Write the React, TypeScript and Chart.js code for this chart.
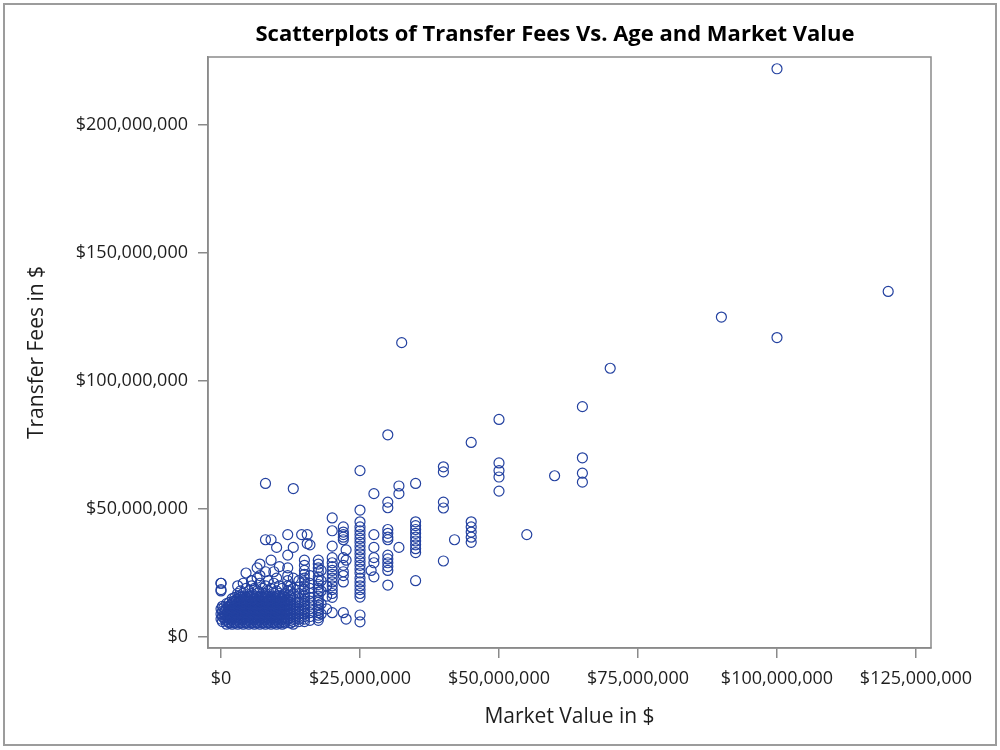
import React, { useEffect, useRef } from "react";
import { Chart, registerables } from "chart.js";

Chart.register(...registerables);

const TITLE = "Scatterplots of Transfer Fees Vs. Age and Market Value";
const X_TITLE = "Market Value in $";
const Y_TITLE = "Transfer Fees in $";

const X_TICKS = [0, 25000000, 50000000, 75000000, 100000000, 125000000];
const Y_TICKS = [0, 50000000, 100000000, 150000000, 200000000];

// Dense cluster: transfer fee rows (millions) and the market values (millions) in each row
const denseFeeRows = [5, 5.5, 6, 6.5, 7, 7.5, 8, 8.5, 9, 9.5, 10, 10.5, 11, 11.5, 12, 12.5, 13, 13.5, 14, 14.5, 15, 15.5, 16, 17, 18, 19, 20, 21, 22, 23];
const denseMarketRows = [
  [1, 2, 3, 4, 5, 6, 7, 8, 9, 10, 11],
  [1.5, 2.5, 3.5, 4.5, 5.5, 6.5, 7.5, 8.5, 9.5, 10.5, 11.5],
  [0.25, 1.25, 2.25, 3.25, 4.25, 5.25, 6.25, 7.25, 8.25, 9.25, 10.25, 11.25],
  [0.75, 1.75, 2.75, 3.75, 4.75, 5.75, 6.75, 7.75, 8.75, 9.75, 10.75, 11.75],
  [0, 1, 2, 3, 4, 5, 6, 7, 8, 9, 10, 11, 12],
  [0.5, 1.5, 2.5, 3.5, 4.5, 5.5, 6.5, 7.5, 8.5, 9.5, 10.5, 11.5],
  [0.25, 1.25, 2.25, 3.25, 4.25, 5.25, 6.25, 7.25, 8.25, 9.25, 10.25, 11.25],
  [0.75, 1.75, 2.75, 3.75, 4.75, 5.75, 6.75, 7.75, 8.75, 9.75, 10.75, 11.75],
  [0, 1, 2, 3, 4, 5, 6, 7, 8, 9, 10, 11, 12],
  [0.5, 1.5, 2.5, 3.5, 4.5, 5.5, 6.5, 7.5, 8.5, 9.5, 10.5, 11.5],
  [0.25, 1.25, 2.25, 3.25, 4.25, 5.25, 6.25, 7.25, 8.25, 9.25, 10.25, 11.25],
  [0.75, 1.75, 2.75, 3.75, 4.75, 5.75, 6.75, 7.75, 8.75, 9.75, 10.75, 11.75],
  [0, 1, 2, 3, 4, 5, 6, 7, 8, 9, 10, 11, 12],
  [0.5, 1.5, 2.5, 3.5, 4.5, 5.5, 6.5, 7.5, 8.5, 9.5, 10.5, 11.5],
  [0.25, 1.25, 2.25, 3.25, 4.25, 5.25, 6.25, 7.25, 8.25, 9.25, 10.25, 11.25],
  [1.75, 2.75, 3.75, 4.75, 5.75, 6.75, 7.75, 8.75, 9.75, 10.75, 11.75],
  [1, 2, 3, 4, 5, 6, 7, 8, 9, 10, 11, 12],
  [1.5, 2.5, 3.5, 4.5, 5.5, 6.5, 7.5, 8.5, 9.5, 10.5, 11.5],
  [2.25, 3.25, 4.25, 5.25, 6.25, 7.25, 8.25, 9.25, 10.25, 11.25],
  [2.75, 3.75, 4.75, 5.75, 6.75, 7.75, 8.75, 9.75, 10.75, 11.75],
  [2, 3, 4, 5, 6, 7, 8, 9, 10, 11, 12],
  [2.5, 3.5, 4.5, 5.5, 6.5, 7.5, 8.5, 9.5, 10.5, 11.5],
  [3.25, 4.25, 5.25, 6.25, 7.25, 8.25, 9.25, 10.25, 11.25],
  [3, 4, 5.5, 6.5, 7.5, 8, 9.5, 10.5, 11.5],
  [0, 3.5, 5, 6.5, 8.5, 10, 12],
  [4.5, 6, 7.5, 9, 11],
  [3, 5.5, 8, 10.5, 12],
  [0, 4, 7, 9.5],
  [5.5, 8.5, 12],
  [6.5, 10],
];

// Columns of players with the same market value (millions) and their fees (millions)
const columnMarket = [12.5, 13, 14, 14.5, 15, 15.5, 16, 17.5, 18, 19, 20, 22, 22.5, 25, 27, 27.5, 30, 32, 32.5, 35, 40, 42, 45, 50, 55, 60, 65, 70, 90, 100, 120];
const columnFees = [
  [5.5, 6.5, 7.5, 8.5, 9.5, 10.5, 11.5, 12.5, 13.5, 14.5, 16, 18, 20],
  [5, 6, 7, 8, 9, 10, 11, 12, 13, 15, 17, 19, 23, 35, 58],
  [6, 7, 8, 9, 10, 11, 12, 13.5, 15, 17, 19.5, 22],
  [40],
  [6, 7, 8, 9, 10, 11, 12, 13, 14, 15, 16, 17, 18.5, 20, 21.5, 23, 24.5, 26, 28, 30],
  [36.5, 40],
  [6.5, 8, 9.5, 11, 12.5, 14, 15.5, 17, 19, 21, 24, 36],
  [6.5, 7.5, 8.5, 9.5, 10.5, 11.5, 12.5, 13.5, 14.5, 16, 17.5, 19, 20.5, 22, 23.5, 25.5, 27, 28.5, 30],
  [9, 13, 18, 22, 26],
  [11, 16, 20],
  [9.5, 15.5, 17, 18.5, 20, 21.5, 23, 24.5, 26, 27.5, 29, 31, 35.5, 41.5, 46.5],
  [9.5, 21.5, 24, 25.5, 28, 31, 38, 39, 40, 41, 43],
  [7, 30, 34],
  [5.9, 8.6, 15.6, 17, 18.5, 20, 21.5, 23, 25, 26.5, 28, 29.5, 31, 32.5, 34, 35.5, 37, 38.5, 40, 41.5, 43, 45, 49.6, 65],
  [26],
  [23.5, 29, 31, 35, 40, 56],
  [20.3, 26, 27.5, 29, 30.5, 32, 38, 39, 40.5, 42, 50.5, 52.7, 79],
  [35, 56, 59],
  [115],
  [22, 33, 34.5, 36, 37.5, 39, 40.5, 42, 43.5, 45, 60],
  [29.7, 50.4, 52.7, 64.5, 66.5],
  [38],
  [37, 39, 41, 43, 45, 76],
  [57, 62.5, 65, 68, 85],
  [40],
  [63],
  [60.5, 64, 70, 90],
  [105],
  [125],
  [117, 222],
  [135],
];

// Scattered individual players: market value and transfer fee, in millions
const scatteredMarket = [0, 0, 4.5, 5.5, 6.5, 7, 7, 8, 9, 9.5, 10.5, 12, 12, 8, 9, 10, 12, 12, 8];
const scatteredFees = [18.5, 21, 25, 22, 27, 24, 28.5, 25.5, 30, 25.5, 27.5, 24, 27, 38, 38, 35, 40, 32, 60];

const MARKER_COLOR = "#2341a0";
const AXIS_COLOR = "#8a8a8a";
const TEXT_COLOR = "#1e1e1e";
const FONT = "'Open Sans', 'Noto Sans', sans-serif";

function money(v: number): string {
  return "$" + String(Math.round(v)).replace(/\B(?=(\d{3})+(?!\d))/g, ",");
}

function buildPoints() {
  const pts: { x: number; y: number }[] = [];
  denseFeeRows.forEach((fee, i) => {
    denseMarketRows[i].forEach((mv) => pts.push({ x: mv * 1e6, y: fee * 1e6 }));
  });
  columnMarket.forEach((mv, i) => {
    columnFees[i].forEach((fee) => pts.push({ x: mv * 1e6, y: fee * 1e6 }));
  });
  scatteredMarket.forEach((mv, i) => pts.push({ x: mv * 1e6, y: scatteredFees[i] * 1e6 }));
  return pts;
}

const framePlugin = {
  id: "frameAndTitle",
  afterDraw(chart: any) {
    const { ctx, chartArea } = chart;
    ctx.save();
    ctx.strokeStyle = AXIS_COLOR;
    ctx.lineWidth = 1.5;
    ctx.strokeRect(chartArea.left, chartArea.top, chartArea.right - chartArea.left, chartArea.bottom - chartArea.top);
    ctx.strokeStyle = "#9c9c9c";
    ctx.lineWidth = 2;
    ctx.strokeRect(4, 4, 992, 741);
    ctx.fillStyle = "#000000";
    ctx.font = "bold 22px " + FONT;
    ctx.textAlign = "center";
    ctx.textBaseline = "middle";
    ctx.fillText(TITLE, 555, 35);
    ctx.restore();
  },
};

export default function App() {
  const ref = useRef<HTMLCanvasElement | null>(null);
  useEffect(() => {
    if (!ref.current) return;
    const chart = new Chart(ref.current, {
      type: "scatter",
      data: {
        datasets: [
          {
            label: "Transfer Fees",
            data: buildPoints(),
            pointStyle: "circle",
            pointRadius: 5,
            pointHoverRadius: 5,
            backgroundColor: "rgba(0,0,0,0)",
            borderColor: MARKER_COLOR,
            borderWidth: 1.2,
          },
        ],
      },
      options: {
        responsive: false,
        animation: false,
        events: [],
        layout: { padding: { left: 0, right: 69, top: 57, bottom: 0 } },
        plugins: {
          legend: { display: false },
          tooltip: { enabled: false },
          title: { display: false },
        },
        scales: {
          x: {
            type: "linear",
            min: -2340000,
            max: 127700000,
            afterBuildTicks: (s: any) => {
              s.ticks = X_TICKS.map((v) => ({ value: v }));
            },
            afterFit: (s: any) => {
              s.height = 102;
            },
            grid: { drawOnChartArea: false, drawTicks: true, tickLength: 10, color: AXIS_COLOR, lineWidth: 1.5 },
            border: { display: true, color: AXIS_COLOR, width: 1.5 },
            ticks: {
              autoSkip: false,
              maxRotation: 0,
              padding: 10,
              color: TEXT_COLOR,
              font: { family: FONT, size: 18 },
              callback: (v: any) => money(Number(v)),
            },
            title: {
              display: true,
              text: X_TITLE,
              color: TEXT_COLOR,
              font: { family: FONT, size: 21 },
              padding: { top: 0, bottom: 20 },
            },
          },
          y: {
            type: "linear",
            min: -4300000,
            max: 226600000,
            afterBuildTicks: (s: any) => {
              s.ticks = Y_TICKS.map((v) => ({ value: v }));
            },
            afterFit: (s: any) => {
              s.width = 208;
            },
            grid: { drawOnChartArea: false, drawTicks: true, tickLength: 10, color: AXIS_COLOR, lineWidth: 1.5 },
            border: { display: true, color: AXIS_COLOR, width: 1.5 },
            ticks: {
              autoSkip: false,
              padding: 10,
              color: TEXT_COLOR,
              font: { family: FONT, size: 18 },
              callback: (v: any) => money(Number(v)),
            },
            title: {
              display: true,
              text: Y_TITLE,
              color: TEXT_COLOR,
              font: { family: FONT, size: 21 },
              padding: { top: 24, bottom: 0 },
            },
          },
        },
      },
      plugins: [framePlugin],
    });
    return () => chart.destroy();
  }, []);
  return (
    <div style={{ position: "absolute", left: 0, top: 0, width: 1000, height: 750, background: "#ffffff" }}>
      <canvas ref={ref} width={1000} height={750} />
    </div>
  );
}
